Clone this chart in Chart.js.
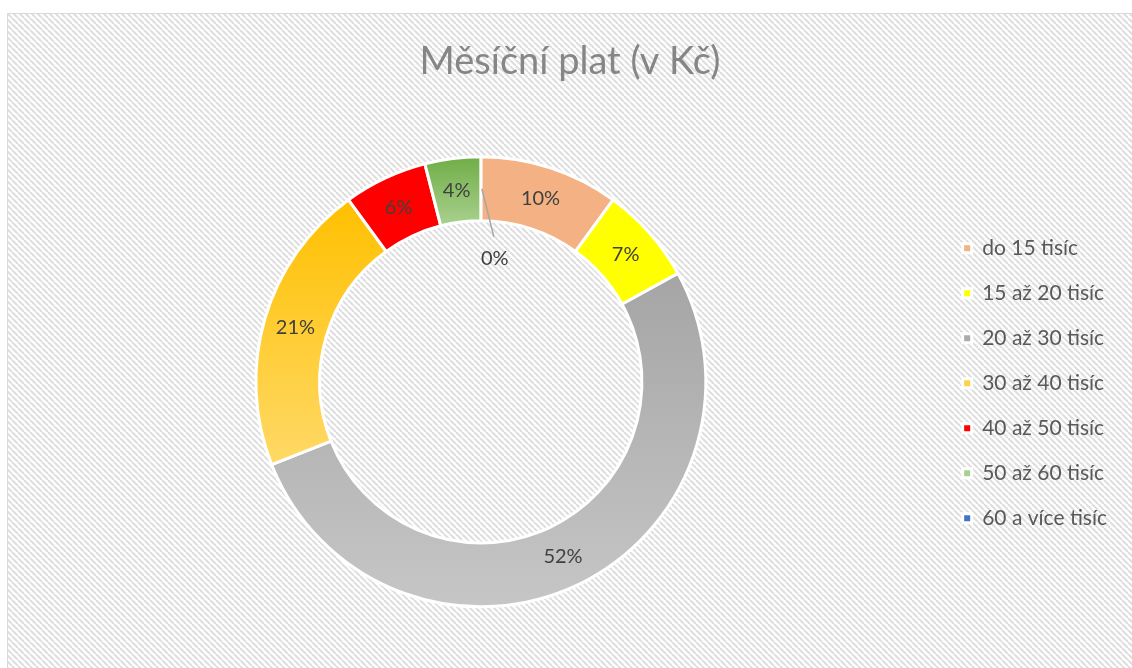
<!DOCTYPE html>
<html lang="cs">
<head>
<meta charset="utf-8">
<title>Měsíční plat (v Kč)</title>
<script src="https://cdn.jsdelivr.net/npm/chart.js@4.4.1/dist/chart.umd.min.js"></script>
<style>
  html, body { margin: 0; padding: 0; background: #ffffff; }
  #wrap { width: 1132px; height: 668px; }
</style>
</head>
<body>
<div id="wrap"><canvas id="platChart" width="1132" height="668"></canvas></div>
<script>
// data z obrazku
const categories = ["do 15 tisíc", "15 až 20 tisíc", "20 až 30 tisíc", "30 až 40 tisíc", "40 až 50 tisíc", "50 až 60 tisíc", "60 a více tisíc"];
const shares = [10, 7, 52, 21, 6, 4, 0];
const topColors = ["#F4B183", "#FFFF00", "#A5A5A5", "#FFC000", "#FF0000", "#70AD47", "#2F5597"];
const bottomColors = ["#F4B183", "#FFFF00", "#C6C6C6", "#FFD966", "#FF0000", "#A9D18E", "#4472C4"];

const OUTER = 225;
const INNER = 161;

// vertikalni prechod pro kazdy dilek zvlast (jako v Excelu)
function sliceGradient(context) {
    const chart = context.chart;
    const i = context.dataIndex;
    const area = chart.chartArea;
    if (!area || i === undefined) return topColors[i] || "#ccc";
    const cx = (area.left + area.right) / 2;
    const cy = (area.top + area.bottom) / 2;
    const total = shares.reduce((a, b) => a + b, 0);
    let before = 0;
    for (let k = 0; k < i; k++) before += shares[k];
    const a0 = -Math.PI / 2 + (before / total) * Math.PI * 2;
    const a1 = a0 + (shares[i] / total) * Math.PI * 2;
    let minY = Infinity, maxY = -Infinity;
    for (let s = 0; s <= 40; s++) {
        const a = a0 + (a1 - a0) * s / 40;
        [INNER, OUTER].forEach(r => {
            const y = cy + r * Math.sin(a);
            minY = Math.min(minY, y);
            maxY = Math.max(maxY, y);
        });
    }
    if (maxY - minY < 1) maxY = minY + 1;
    const g = chart.ctx.createLinearGradient(0, minY, 0, maxY);
    g.addColorStop(0, topColors[i]);
    g.addColorStop(1, bottomColors[i]);
    return g;
}

// srafovane pozadi grafu
const hatchPlugin = {
    id: "hatch",
    beforeDraw(chart) {
        const ctx = chart.ctx;
        const tile = document.createElement("canvas");
        tile.width = 6;
        tile.height = 6;
        const t = tile.getContext("2d");
        t.fillStyle = "#ffffff";
        t.fillRect(0, 0, 6, 6);
        t.strokeStyle = "#dedede";
        t.lineWidth = 2;
        t.beginPath();
        [-6, 0, 6].forEach(k => {
            t.moveTo(k, 0);
            t.lineTo(k + 6, 6);
        });
        t.stroke();
        ctx.save();
        ctx.fillStyle = "#ffffff";
        ctx.fillRect(0, 0, chart.width, chart.height);
        ctx.fillStyle = ctx.createPattern(tile, "repeat");
        ctx.fillRect(7, 13, chart.width - 7, chart.height - 13);
        ctx.strokeStyle = "#d9d9d9";
        ctx.lineWidth = 1;
        ctx.beginPath();
        ctx.moveTo(7.5, chart.height);
        ctx.lineTo(7.5, 13.5);
        ctx.lineTo(chart.width, 13.5);
        ctx.stroke();
        ctx.restore();
    }
};

// popisky procent v prstenci
const labelPlugin = {
    id: "sliceLabels",
    afterDatasetsDraw(chart) {
        const ctx = chart.ctx;
        const meta = chart.getDatasetMeta(0);
        ctx.save();
        ctx.font = "20px Lato";
        ctx.fillStyle = "#404040";
        ctx.textAlign = "center";
        ctx.textBaseline = "middle";
        meta.data.forEach((arc, i) => {
            const p = arc.getProps(["x", "y", "startAngle", "endAngle", "innerRadius", "outerRadius"], true);
            const mid = (p.startAngle + p.endAngle) / 2;
            const r = (p.innerRadius + p.outerRadius) / 2;
            const x = p.x + r * Math.cos(mid);
            const y = p.y + r * Math.sin(mid);
            const txt = shares[i] + "%";
            if (shares[i] > 0) {
                ctx.fillText(txt, x, y);
            } else {
                // nulovy dilek - popisek s vodici carou
                ctx.strokeStyle = "#a6a6a6";
                ctx.lineWidth = 1.5;
                ctx.beginPath();
                ctx.moveTo(x + 1, y);
                ctx.lineTo(x + 13, y + 48);
                ctx.stroke();
                ctx.fillText(txt, x + 14, y + 70);
            }
        });
        ctx.restore();
    }
};

const ctx = document.getElementById("platChart").getContext("2d");
new Chart(ctx, {
    type: "doughnut",
    data: {
        labels: categories,
        datasets: [{
            data: shares,
            backgroundColor: sliceGradient,
            borderColor: "#ffffff",
            borderWidth: 3,
            hoverOffset: 0
        }]
    },
    options: {
        responsive: false,
        animation: false,
        radius: OUTER,
        cutout: (INNER / OUTER * 100).toFixed(1) + "%",
        layout: { padding: { top: 0, bottom: 9, left: 23, right: 15 } },
        plugins: {
            title: {
                display: true,
                text: "Měsíční plat (v Kč)",
                color: "#868686",
                font: { family: "Lato", size: 38, weight: "normal" },
                padding: { top: 39, bottom: 20 }
            },
            legend: {
                position: "right",
                title: {
                    display: true,
                    text: "",
                    font: { size: 12 },
                    padding: { top: 0, bottom: 93 }
                },
                labels: {
                    boxWidth: 9,
                    boxHeight: 9,
                    padding: 24,
                    color: "#595959",
                    font: { family: "Lato", size: 21 }
                }
            },
            tooltip: { enabled: false }
        }
    },
    plugins: [hatchPlugin, labelPlugin]
});
</script>
</body>
</html>
